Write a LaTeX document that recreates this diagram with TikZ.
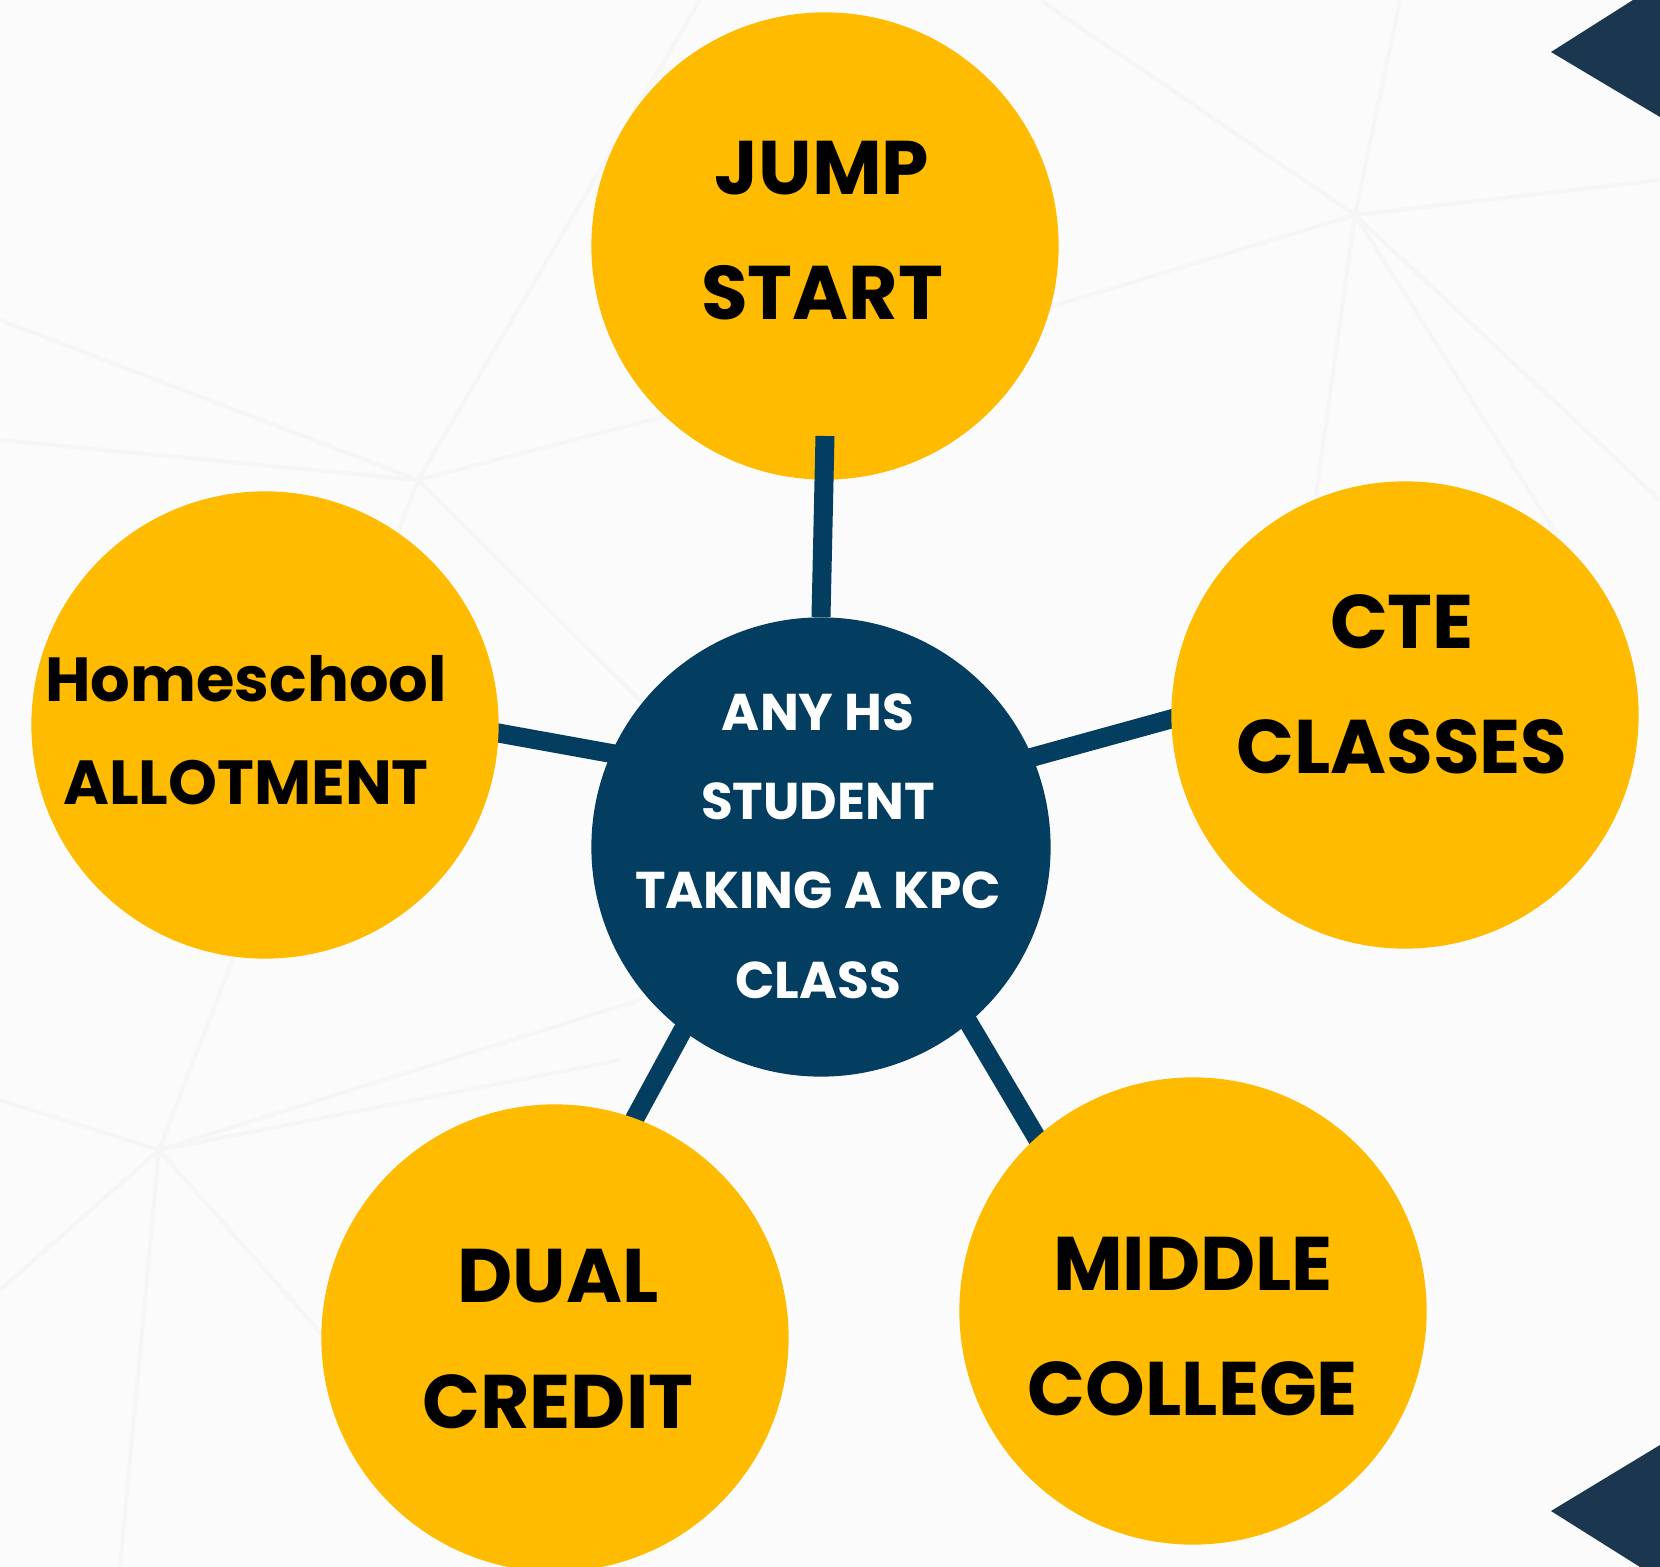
\documentclass[tikz,border=0pt]{standalone}
\usepackage{fontspec}
\setmainfont{Poppins}
\usetikzlibrary{backgrounds}
\definecolor{kpcyellow}{RGB}{255,187,0}
\definecolor{kpcnavy}{RGB}{3,61,96}
\definecolor{kpcslate}{RGB}{27,55,79}
\begin{document}
\begin{tikzpicture}[x=0.01cm, y=-0.01cm,
	bubble/.style={circle, fill=kpcyellow, minimum size=4.67cm, inner sep=0pt},
	hubdisc/.style={circle, fill=kpcnavy, minimum size=4.59cm, inner sep=0pt},
	bigtext/.style={align=center, inner sep=0pt, font=\bfseries\fontsize{21.6}{35.6}\selectfont},
	midtext/.style={align=center, inner sep=0pt, font=\bfseries\fontsize{17.7}{29.4}\selectfont},
	hubtext/.style={align=center, inner sep=0pt, text=white, font=\bfseries\fontsize{14.7}{25.4}\selectfont},
	link/.style={draw=kpcnavy, line width=0.19cm},
	mesh/.style={draw=black!3.5, line width=0.04cm}]
	\useasboundingbox (0,0) rectangle (1660,1567);

	\node[bubble] (jump) at (825,246) {};
	\node[bubble] (cte) at (1405,715) {};
	\node[bubble] (home) at (265,725) {};
	\node[bubble] (dual) at (555,1338) {};
	\node[bubble] (middle) at (1193,1311) {};

	\coordinate (jumpfoot) at (825,436);
	\draw[link] (jumpfoot) -- (821,617);

	\node[hubdisc] (hub) at (821,847) {};

	\node[bigtext] (jumptext) at (822,231) {JUMP\\START};
	\node[bigtext] (ctetext) at (1402,684) {CTE\\CLASSES};
	\node[midtext] (hometext) at (246,730) {Homeschool\\ALLOTMENT};
	\node[bigtext] (dualtext) at (558,1339) {DUAL\\CREDIT};
	\node[bigtext] (middletext) at (1193,1327) {MIDDLE\\COLLEGE};
	\node[hubtext] (hubtext) at (818,846) {ANY HS\\STUDENT\\TAKING A KPC\\CLASS};

	\begin{scope}[on background layer]
		\fill[black!1.5] (0,0) rectangle (1660,1567);
		\foreach \tx/\ty in {1660/180, 1660/500, 1400/0, 1040/0, 1040/310, 1300/610, 1560/540}
			\draw[mesh] (1355,215) -- (\tx,\ty);
		\foreach \tx/\ty in {0/440, 0/320, 700/0, 159/1150, 660/720, 1000/330}
			\draw[mesh] (418,480) -- (\tx,\ty);
		\foreach \tx/\ty in {0/1100, 0/1290, 640/1000, 380/1400, 120/1567, 620/1060}
			\draw[mesh] (159,1150) -- (\tx,\ty);
		\fill[kpcslate] (1551,52) -- (1633,0) -- (1660,0) -- (1660,117) -- cycle;
		\fill[kpcslate] (1551,1511) -- (1660,1445) -- (1660,1567) -- (1640,1567) -- cycle;
		\draw[link, shorten <=-0.15cm, shorten >=-0.15cm] (home.-2) -- (hub.156);
		\draw[link, shorten <=-0.15cm, shorten >=-0.15cm] (hub.23) -- (cte.181);
		\draw[link, shorten <=-0.15cm, shorten >=-0.15cm] (hub.233) -- (dual.70);
		\draw[link, shorten <=-0.15cm, shorten >=-0.15cm] (hub.310) -- (middle.132);
	\end{scope}
\end{tikzpicture}
\end{document}
